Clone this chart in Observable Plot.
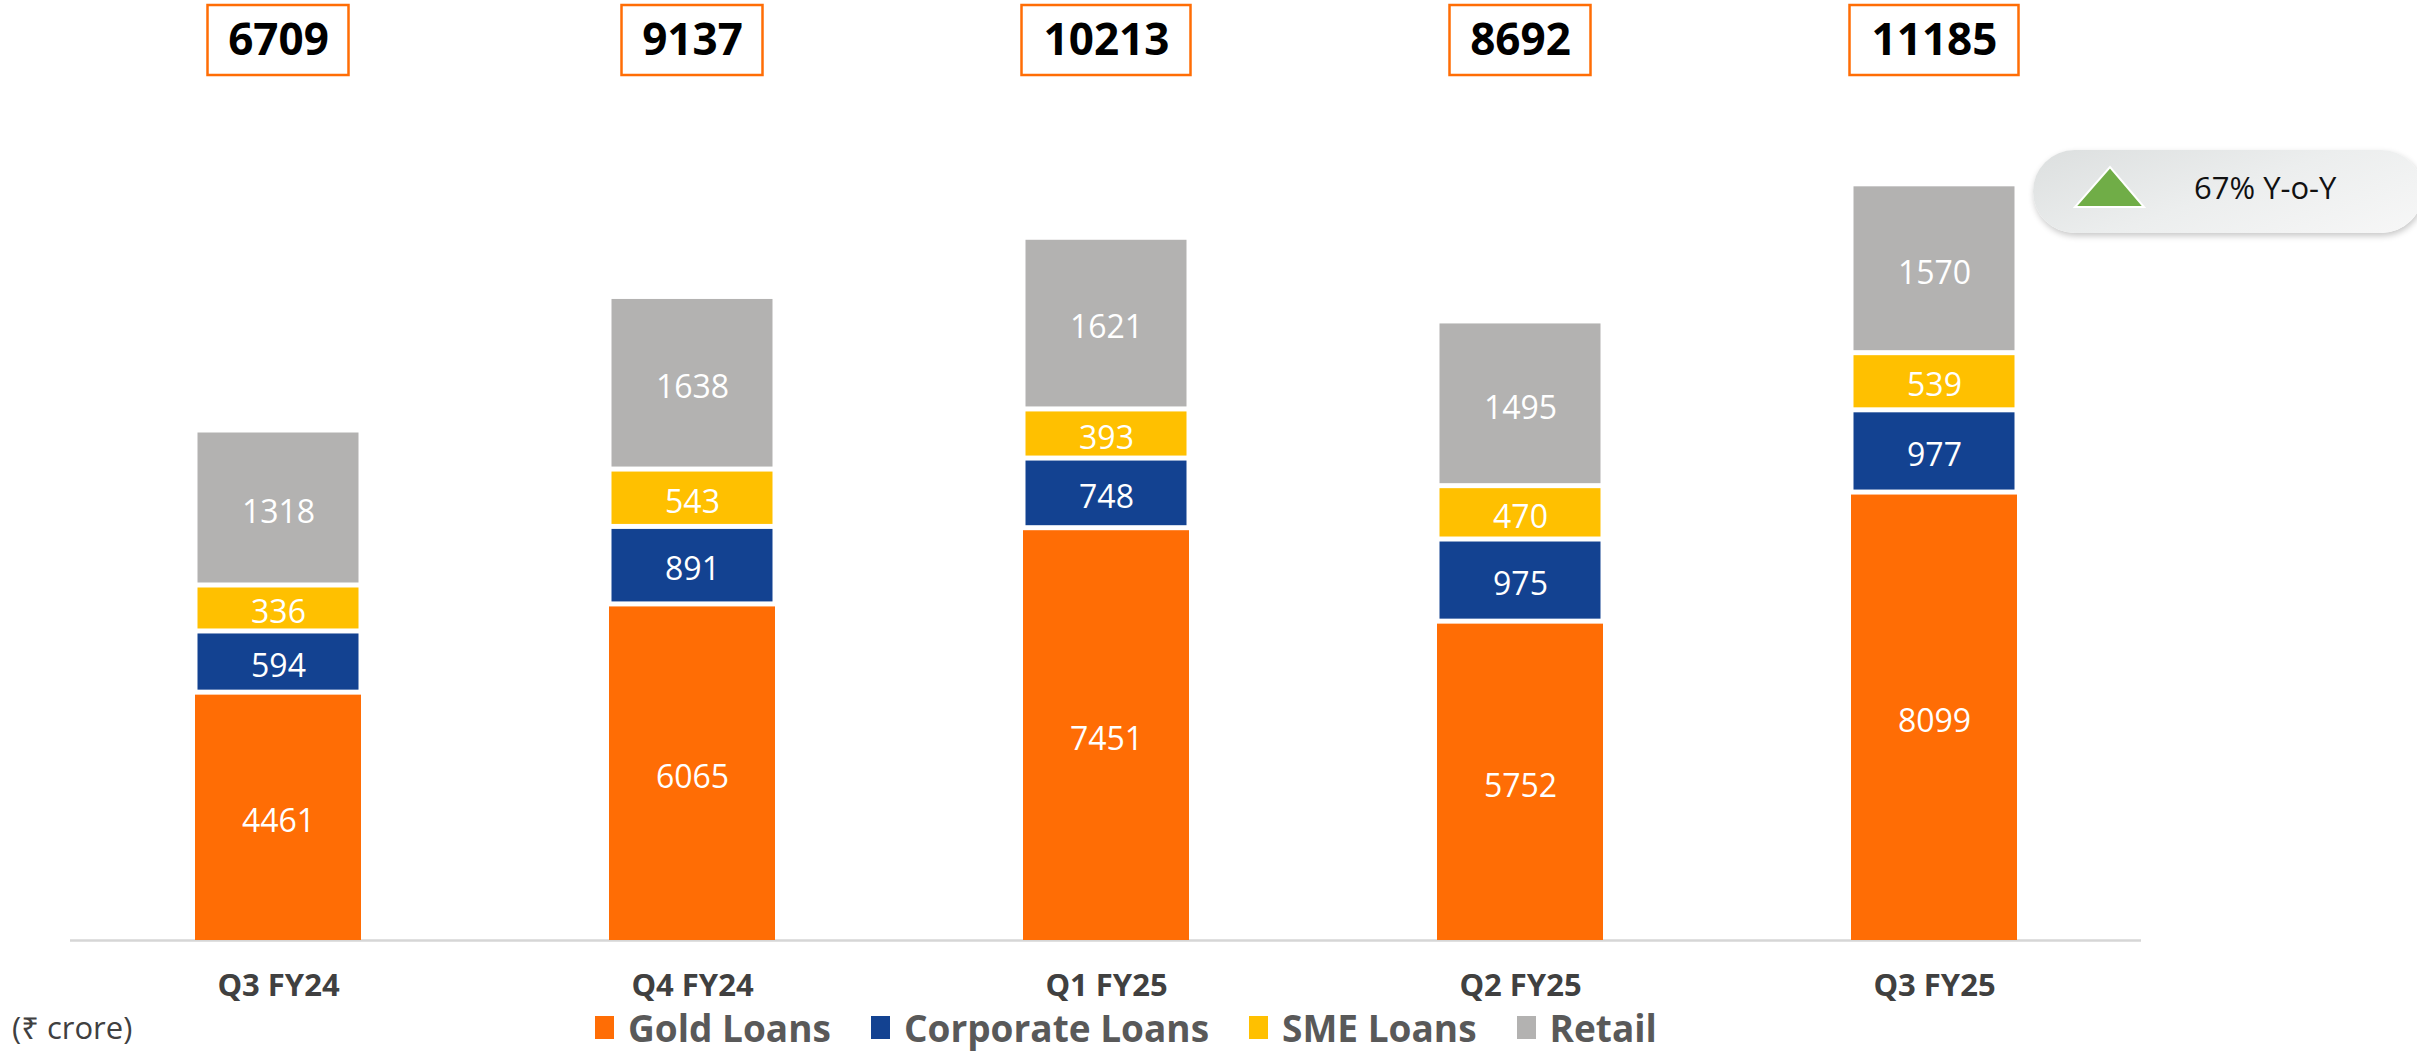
<!DOCTYPE html>
<html>
<head>
<meta charset="utf-8">
<script src="https://cdn.jsdelivr.net/npm/d3@7"></script>
<script src="https://cdn.jsdelivr.net/npm/@observablehq/plot@0.6"></script>
<style>
  html, body { margin: 0; padding: 0; background: #fff; overflow: hidden; }
  body { width: 2417px; height: 1055px; position: relative; font-family: "Open Sans", "Noto Sans", sans-serif; }
  #chart { position: absolute; left: 0; top: 0; }
  #unit { position: absolute; left: 12px; top: 1000px; height: 55px; line-height: 55px; font-size: 31px; color: #404040; }
  #legend { position: absolute; left: 595px; top: 1000px; height: 55px; display: flex; align-items: center; }
  .item { display: flex; align-items: center; margin-right: 40px; font-weight: 700; font-size: 37px; color: #595959; }
  .sw { width: 19px; height: 23px; margin-right: 14px; }
  #badge { position: absolute; left: 2033px; top: 150px; width: 390px; height: 83px; border-radius: 42px;
           background: linear-gradient(160deg, #dcdfdf 0%, #eceeee 50%, #f7f7f7 100%);
           box-shadow: 1px 3px 6px rgba(0,0,0,0.22); }
  #badge svg { position: absolute; left: 0; top: 0; }
  #badge .txt { position: absolute; left: 161px; top: 18px; font-size: 31px; line-height: 38px; color: #111; }
</style>
</head>
<body>
<div id="chart"></div>
<div id="unit">(₹ crore)</div>
<div id="legend"></div>
<div id="badge">
  <svg width="160" height="83"><polygon points="42,57 111,57 77,17" fill="#70ad47" stroke="#fff" stroke-width="2"/></svg>
  <div class="txt">67% Y-o-Y</div>
</div>
<script>
// ---- data ----
const quarters = ["Q3 FY24", "Q4 FY24", "Q1 FY25", "Q2 FY25", "Q3 FY25"];
const series = ["Gold Loans", "Corporate Loans", "SME Loans", "Retail"];
const gold = [4461, 6065, 7451, 5752, 8099];
const corporate = [594, 891, 748, 975, 977];
const sme = [336, 543, 393, 470, 539];
const retail = [1318, 1638, 1621, 1495, 1570];
const totals = [6709, 9137, 10213, 8692, 11185];
const colors = ["#ff6d05", "#134291", "#ffc000", "#b3b2b1"];

// ---- layout / style constants (not data) ----
const pxPerUnit = 0.055;
const baseY = 940;
const gapPx = 5;
// extra height per segment in pixels (the reference draws the smaller segments with a padded height)
const padPx = [0, 23.5, 22.5, 77.5];

const values = [gold, corporate, sme, retail];
const rows = [];
quarters.forEach((q, i) => {
  let cum = 0;
  series.forEach((s, j) => {
    const extra = j === 0 ? 0 : (padPx[j] + gapPx) / pxPerUnit;
    const y1 = cum, y2 = cum + values[j][i] + extra;
    rows.push({quarter: q, series: s, value: values[j][i], y1, y2, ym: (y1 + y2) / 2, idx: j});
    cum = y2;
  });
});
const goldRows = rows.filter(d => d.idx === 0);
const otherRows = rows.filter(d => d.idx > 0);
const tops = quarters.map((q, i) => ({quarter: q, total: totals[i], label: String(totals[i])}));

const chart = Plot.plot({
  width: 2417,
  height: 1000,
  marginTop: 0,
  marginBottom: 60,
  marginLeft: 70,
  marginRight: 276,
  x: {domain: quarters, paddingInner: 0.6, paddingOuter: 0.3, label: null},
  y: {domain: [0, baseY / pxPerUnit], axis: null},
  color: {domain: series, range: colors},
  style: {fontFamily: "Open Sans, Noto Sans, sans-serif", background: "white", overflow: "visible"},
  marks: [
    Plot.ruleY([0], {stroke: "#d6d6d6", strokeWidth: 2.5}),
    Plot.barY(goldRows, {x: "quarter", y1: "y1", y2: "y2", fill: "series", ariaLabel: "gold-bars"}),
    Plot.barY(otherRows, {x: "quarter", y1: "y1", y2: "y2", fill: "series", insetBottom: gapPx, insetLeft: 2.5, insetRight: 2.5}),
    Plot.text(goldRows, {x: "quarter", y: "ym", text: d => String(d.value), fill: "white", fontSize: 32, dy: 4}),
    Plot.text(otherRows, {x: "quarter", y: "ym", text: d => String(d.value), fill: "white", fontSize: 32, dy: 2}),
    Plot.axisX({tickSize: 0, tickPadding: 33, fontSize: 31, fontWeight: 700, color: "#404040", label: null}),
    Plot.cell(tops.filter(d => d.label.length === 4), {x: "quarter", fill: "white", stroke: "#ff6d05", strokeWidth: 2.5, insetTop: 5, insetBottom: 865, insetLeft: 12.5, insetRight: 12.5}),
    Plot.cell(tops.filter(d => d.label.length === 5), {x: "quarter", fill: "white", stroke: "#ff6d05", strokeWidth: 2.5, insetTop: 5, insetBottom: 865, insetLeft: -1.5, insetRight: -1.5}),
    Plot.text(tops, {x: "quarter", text: "label", frameAnchor: "top", lineAnchor: "middle", dy: 40, fontSize: 44, fontWeight: 700, fill: "#000"})
  ]
});
document.getElementById("chart").appendChild(chart);

// soft shadow on the gold bars
d3.select(chart).select("g[aria-label='gold-bars']").style("filter", "drop-shadow(-4px 3px 4px rgba(0,0,0,0.30))");

// legend
const lg = d3.select("#legend");
series.forEach((s, j) => {
  const it = lg.append("div").attr("class", "item");
  it.append("div").attr("class", "sw").style("background", colors[j]);
  it.append("span").text(s);
});
</script>
</body>
</html>
